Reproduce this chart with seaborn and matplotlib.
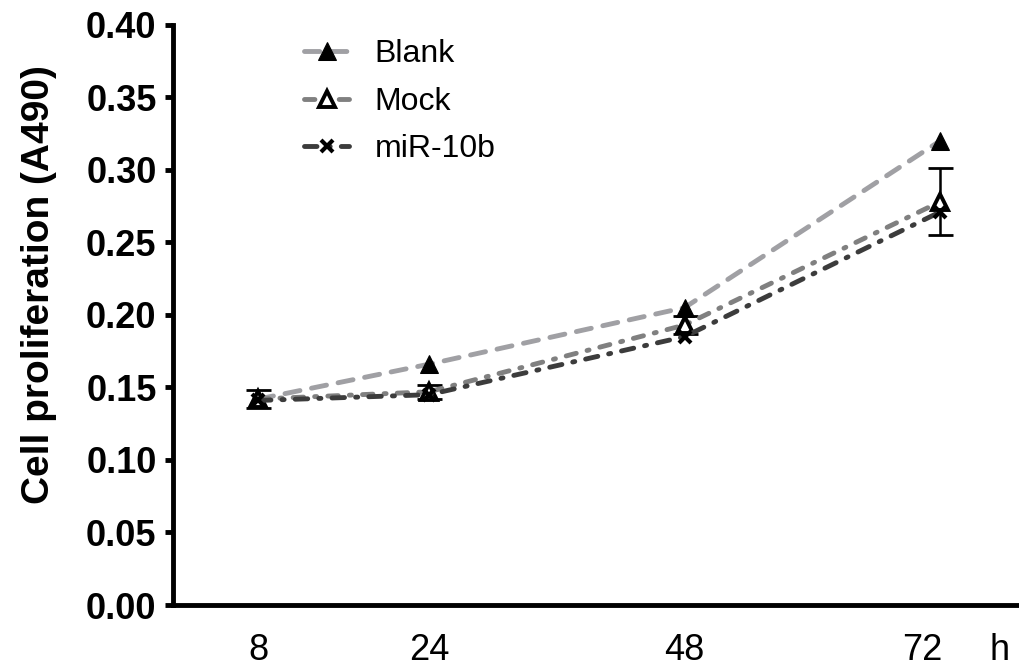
import numpy as np
import matplotlib
matplotlib.use("Agg")
import matplotlib.pyplot as plt
import matplotlib.transforms as mtransforms
import seaborn as sns

# данные
hours = [8, 24, 48, 72]
blank = [0.142, 0.166, 0.205, 0.320]
mock = [0.142, 0.147, 0.193, 0.278]
mock_err = [0.006, 0.005, 0.006, 0.023]
mir10b = [0.141, 0.145, 0.185, 0.271]

sns.set_theme(style="white")
plt.rcParams["font.family"] = ["Liberation Sans", "DejaVu Sans"]
plt.rcParams["lines.scale_dashes"] = False
for key in ["text.color", "axes.labelcolor", "xtick.color", "ytick.color"]:
    plt.rcParams[key] = "black"

fig = plt.figure(figsize=(10.19, 6.70), dpi=100)
ax = fig.add_axes([0.170, 0.097, 0.830, 0.866])

# Blank - светло-серые длинные штрихи, закрашенный треугольник
sns.lineplot(x=hours, y=blank, ax=ax, color="#a0a0a4", lw=3.5,
             linestyle=(0, (11, 8.5)), dash_capstyle="round",
             marker="^", markersize=13, markerfacecolor="black",
             markeredgecolor="black", label="Blank", zorder=3)

# Mock - серый штрих-пунктир, пустой треугольник, с планками погрешности
ax.errorbar(hours, mock, yerr=mock_err, fmt="none", ecolor="black",
            elinewidth=1.8, capsize=9, capthick=2, zorder=2)
sns.lineplot(x=hours, y=mock, ax=ax, color="#808080", lw=3.5,
             linestyle=(0, (7.5, 8, 1.5, 8)), dash_capstyle="round",
             marker="^", markersize=12, markerfacecolor="white",
             markeredgecolor="black", markeredgewidth=2.8,
             label="Mock", zorder=4)

# miR-10b - тёмный штрих-пунктир, крестик
sns.lineplot(x=hours, y=mir10b, ax=ax, color="#3c3c3c", lw=3.5,
             linestyle=(0, (9, 8, 1.5, 8)), dash_capstyle="round",
             marker="x", markersize=9, markeredgecolor="black",
             markeredgewidth=3, label="miR-10b", zorder=5)

ax.set_xlim(0, 79.4)
ax.set_ylim(0, 0.40)
ax.set_yticks(np.arange(0, 0.401, 0.05))
ax.set_yticklabels([f"{v:.2f}" for v in np.arange(0, 0.401, 0.05)],
                   fontsize=26, fontweight="bold")
ax.set_xticks(hours)
ax.set_xticklabels([str(h) for h in hours], fontsize=26)
ax.tick_params(axis="x", length=0, pad=20)
ax.tick_params(axis="y", direction="out", length=6, width=3.5, pad=6, left=True)

# подпись "72" немного левее, рядом единица "h"
lab72 = ax.get_xticklabels()[-1]
lab72.set_transform(lab72.get_transform() +
                    mtransforms.ScaledTranslation(-18 / 100, 0, fig.dpi_scale_trans))
ax.annotate("h", xy=(77.6, 0), xycoords=("data", "axes fraction"),
            xytext=(0, -20), textcoords="offset points",
            fontsize=26, ha="center", va="top")

ax.set_ylabel("Cell proliferation (A490)", fontsize=28, fontweight="bold")
ax.yaxis.set_label_coords(-0.137, 0.553)
ax.set_xlabel("")

for side in ["top", "right"]:
    ax.spines[side].set_visible(False)
for side in ["left", "bottom"]:
    ax.spines[side].set_linewidth(3.5)
    ax.spines[side].set_color("black")

leg = ax.legend(loc="upper left", bbox_to_anchor=(0.14, 0.997), frameon=False,
                fontsize=23, handlelength=1.4, handletextpad=0.8,
                labelspacing=0.55, borderaxespad=0)

fig.savefig("out.png", dpi=100)
